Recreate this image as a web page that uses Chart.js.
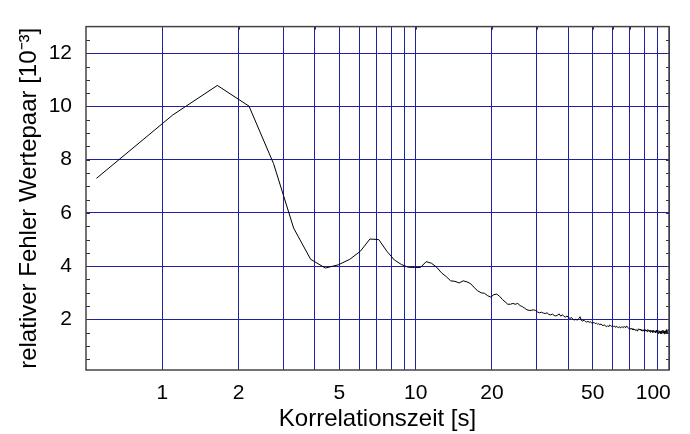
<!DOCTYPE html>
<html>
<head>
<meta charset="utf-8">
<script src="https://cdn.jsdelivr.net/npm/chart.js@4.4.1/dist/chart.umd.min.js"></script>
<style>
  html, body { margin: 0; padding: 0; background: #fff; }
  #wrap { width: 690px; height: 434px; }
</style>
</head>
<body>
<div id="wrap"><canvas id="c" width="690" height="434"></canvas></div>
<script>
// Korrelationszeit [s] (sampled every 0.55 s)
const korrelationszeit = [
  0.55, 1.1, 1.65, 2.2, 2.75, 3.3, 3.85, 4.4, 4.95, 5.5,
  6.05, 6.6, 7.15, 7.7, 8.25, 8.8, 9.35, 9.9, 10.45, 11,
  11.55, 12.1, 12.65, 13.2, 13.75, 14.3, 14.85, 15.4, 15.95, 16.5,
  17.05, 17.6, 18.15, 18.7, 19.25, 19.8, 20.35, 20.9, 21.45, 22,
  22.55, 23.1, 23.65, 24.2, 24.75, 25.3, 25.85, 26.4, 26.95, 27.5,
  28.05, 28.6, 29.15, 29.7, 30.25, 30.8, 31.35, 31.9, 32.45, 33,
  33.55, 34.1, 34.65, 35.2, 35.75, 36.3, 36.85, 37.4, 37.95, 38.5,
  39.05, 39.6, 40.15, 40.7, 41.25, 41.8, 42.35, 42.9, 43.45, 44,
  44.55, 45.1, 45.65, 46.2, 46.75, 47.3, 47.85, 48.4, 48.95, 49.5,
  50.05, 50.6, 51.15, 51.7, 52.25, 52.8, 53.35, 53.9, 54.45, 55,
  55.55, 56.1, 56.65, 57.2, 57.75, 58.3, 58.85, 59.4, 59.95, 60.5,
  61.05, 61.6, 62.15, 62.7, 63.25, 63.8, 64.35, 64.9, 65.45, 66,
  66.55, 67.1, 67.65, 68.2, 68.75, 69.3, 69.85, 70.4, 70.95, 71.5,
  72.05, 72.6, 73.15, 73.7, 74.25, 74.8, 75.35, 75.9, 76.45, 77,
  77.55, 78.1, 78.65, 79.2, 79.75, 80.3, 80.85, 81.4, 81.95, 82.5,
  83.05, 83.6, 84.15, 84.7, 85.25, 85.8, 86.35, 86.9, 87.45, 88,
  88.55, 89.1, 89.65, 90.2, 90.75, 91.3, 91.85, 92.4, 92.95, 93.5,
  94.05, 94.6, 95.15, 95.7, 96.25, 96.8, 97.35, 97.9, 98.45, 99,
  99.55
];

// relativer Fehler Wertepaar [10^-3]
const relFehler = [
  7.3, 9.68, 10.79, 10.01, 7.85, 5.43, 4.26, 3.93, 4.05, 4.26,
  4.56, 5.02, 5.0, 4.56, 4.23, 4.06, 3.96, 3.95, 3.95, 4.17,
  4.11, 3.96, 3.75, 3.61, 3.45, 3.43, 3.37, 3.45, 3.41, 3.34,
  3.19, 3.07, 3.0, 2.98, 2.89, 2.84, 2.93, 2.95, 2.87, 2.75,
  2.66, 2.57, 2.57, 2.6, 2.57, 2.6, 2.52, 2.48, 2.42, 2.36,
  2.34, 2.34, 2.36, 2.34, 2.28, 2.25, 2.27, 2.24, 2.22, 2.25,
  2.19, 2.17, 2.20, 2.15, 2.13, 2.16, 2.21, 2.12, 2.18, 2.11,
  2.09, 2.13, 2.06, 2.04, 2.07, 2.00, 1.98, 2.01, 1.97, 2.03,
  2.10, 1.96, 1.94, 1.97, 1.92, 1.90, 1.93, 1.89, 1.91, 1.87,
  1.86, 1.89, 1.84, 1.86, 1.82, 1.84, 1.80, 1.83, 1.78, 1.77,
  1.80, 1.75, 1.73, 1.76, 1.72, 1.79, 1.76, 1.74, 1.77, 1.73,
  1.75, 1.70, 1.74, 1.71, 1.69, 1.73, 1.68, 1.71, 1.72, 1.69,
  1.74, 1.70, 1.73, 1.75, 1.70, 1.66, 1.69, 1.63, 1.67, 1.62,
  1.66, 1.60, 1.64, 1.59, 1.62, 1.57, 1.61, 1.65, 1.60, 1.64,
  1.58, 1.62, 1.56, 1.61, 1.55, 1.63, 1.57, 1.60, 1.54, 1.62,
  1.56, 1.59, 1.52, 1.60, 1.54, 1.58, 1.51, 1.59, 1.53, 1.57,
  1.49, 1.60, 1.52, 1.56, 1.47, 1.58, 1.50, 1.55, 1.46, 1.57,
  1.49, 1.60, 1.48, 1.56, 1.45, 1.58, 1.50, 1.62, 1.47, 1.55,
  1.64
];

// axis ticks
const xGridTicks = [1, 2, 3, 4, 5, 6, 7, 8, 9, 10, 20, 30, 40, 50, 60, 70, 80, 90, 100];
const xTickLabels = [1, 2, 5, 10, 20, 50, 100];
const yGridTicks = [2, 4, 6, 8, 10, 12];
const yMinorTicks = [0.5, 1, 1.5, 2, 2.5, 3, 3.5, 4, 4.5, 5, 5.5, 6, 6.5, 7, 7.5, 8, 8.5, 9, 9.5, 10, 10.5, 11, 11.5, 12, 12.5];

const FONT = "'Liberation Sans', Arial, sans-serif";
const GRID = 'rgb(32,32,160)';

// frame + small inward ticks like the original plot
const frame = {
  id: 'frame',
  afterDraw(chart) {
    const { ctx, chartArea: a, scales: { x, y } } = chart;
    ctx.save();
    ctx.strokeStyle = '#333';
    ctx.lineWidth = 1;
    ctx.beginPath();
    yMinorTicks.forEach((v) => {
      const py = Math.round(y.getPixelForValue(v)) + 0.5;
      ctx.moveTo(a.left, py);
      ctx.lineTo(a.left + 4, py);
      ctx.moveTo(a.right, py);
      ctx.lineTo(a.right - 3, py);
    });
    xGridTicks.forEach((v) => {
      const px = Math.round(x.getPixelForValue(v)) + 0.5;
      ctx.moveTo(px, a.top);
      ctx.lineTo(px, a.top + 3);
    });
    ctx.stroke();
    ctx.strokeStyle = '#444';
    ctx.lineWidth = 1.5;
    ctx.strokeRect(a.left, a.top, a.right - a.left, a.bottom - a.top);
    ctx.restore();
  },
};

new Chart(document.getElementById('c').getContext('2d'), {
  type: 'line',
  data: {
    datasets: [
      {
        data: korrelationszeit.map((t, i) => ({ x: t, y: relFehler[i] })),
        borderColor: '#000',
        borderWidth: 1,
        pointRadius: 0,
        tension: 0,
        fill: false,
      },
    ],
  },
  options: {
    responsive: false,
    animation: false,
    devicePixelRatio: 1,
    layout: { padding: { top: 9, right: 21, left: 0, bottom: 0 } },
    plugins: { legend: { display: false }, tooltip: { enabled: false } },
    scales: {
      x: {
        type: 'logarithmic',
        min: 0.5,
        max: 100,
        afterBuildTicks: (s) => { s.ticks = xGridTicks.map((v) => ({ value: v })); },
        afterFit: (s) => {
          s.height = 64;
          s.paddingLeft = 0;
          s.paddingRight = 0;
        },
        grid: { color: GRID, lineWidth: 1, drawTicks: false },
        border: { display: false },
        ticks: {
          autoSkip: false,
          maxRotation: 0,
          padding: 11,
          color: '#000',
          font: { family: FONT, size: 21 },
          // last label sits flush with the right frame, as in the original
          callback: (v) => {
            if (!xTickLabels.includes(v)) return '';
            return v === 100 ? '100\u2002\u2002\u2002' : String(v);
          },
        },
        title: {
          display: true,
          text: 'Korrelationszeit [s]',
          color: '#000',
          font: { family: FONT, size: 24 },
          padding: 0,
        },
      },
      y: {
        type: 'linear',
        min: 0.1,
        max: 13,
        afterBuildTicks: (s) => { s.ticks = yGridTicks.map((v) => ({ value: v })); },
        afterFit: (s) => { s.width = 86; },
        grid: { color: GRID, lineWidth: 1, drawTicks: false },
        border: { display: false },
        ticks: {
          padding: 14,
          color: '#000',
          font: { family: FONT, size: 21 },
        },
        title: {
          display: true,
          text: 'relativer Fehler Wertepaar [10⁻³]',
          color: '#000',
          font: { family: FONT, size: 24 },
          padding: { top: 15, bottom: 0 },
        },
      },
    },
  },
  plugins: [frame],
});
</script>
</body>
</html>
